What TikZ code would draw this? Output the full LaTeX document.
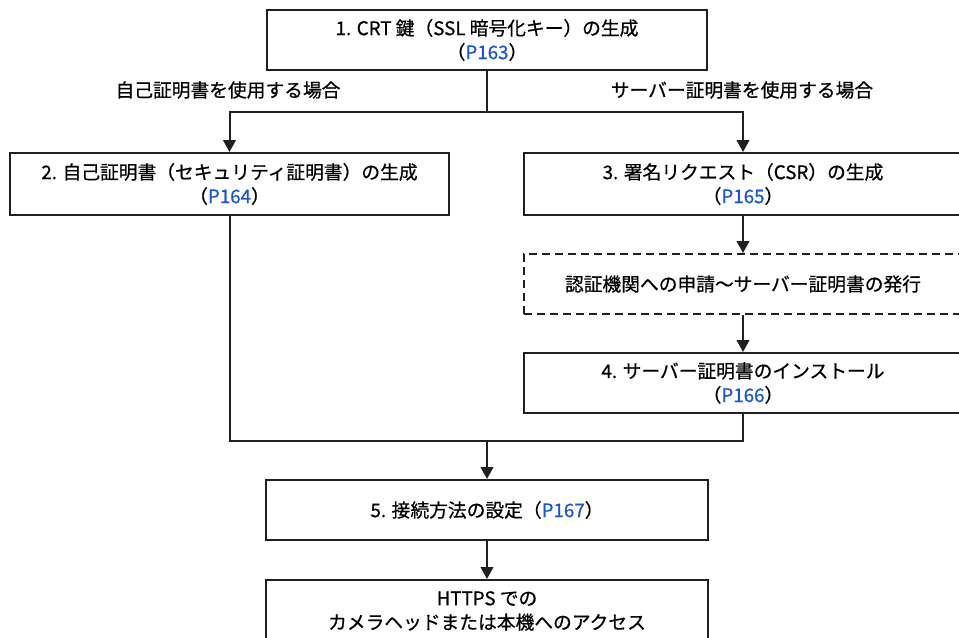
\documentclass[tikz,border=0pt]{standalone}
\usepackage{fontspec}
\setmainfont{Noto Sans CJK JP}[FakeBold=0.7]
\usetikzlibrary{positioning,arrows.meta}
\definecolor{flowline}{RGB}{35,31,32}
\definecolor{pagelink}{RGB}{25,85,205}
\newcommand{\pg}[1]{\textcolor{pagelink}{#1}}

\begin{document}
\begin{tikzpicture}[x=0.03cm, y=-0.03cm, >={Triangle[width=0.38cm,length=0.36cm]},
    every node/.style={font=\fontsize{16}{20.5}\selectfont}]
  \tikzset{
    stepbox/.style={draw=flowline, line width=0.06cm, align=center, inner sep=0pt, minimum height=1.8cm},
    link/.style={draw=flowline, line width=0.06cm}
  }
  \clip (0,0) rectangle (959,637);

  \node[stepbox, minimum width=13.17cm] (sCRT)  at (487,40) {1. CRT 鍵（SSL 暗号化キー）の生成\\（\pg{P163}）};
  \node[stepbox, minimum width=13.17cm, minimum height=1.86cm] (sSelf) at (229.5,184) {2. 自己証明書（セキュリティ証明書）の生成\\（\pg{P164}）};
  \node[stepbox, minimum width=13.14cm, minimum height=1.86cm] (sCSR)  at (743,184) {3. 署名リクエスト（CSR）の生成\\（\pg{P165}）};
  \node[stepbox, dashed, dash pattern=on 0.24cm off 0.15cm, minimum width=13.14cm] (sCA) at (743,284) {認証機関への申請〜サーバー証明書の発行};
  \node[stepbox, minimum width=13.14cm] (sInst) at (743,383) {4. サーバー証明書のインストール\\（\pg{P166}）};
  \node[stepbox, minimum width=13.23cm] (sConn) at (487,510) {5. 接続方法の設定（\pg{P167}）};
  \node[stepbox, minimum width=13.23cm, minimum height=1.86cm] (sHTTPS) at (487,611) {HTTPS での\\カメラヘッドまたは本機へのアクセス};

  \node (lSelf) at (228,90) {自己証明書を使用する場合};
  \node (lSrv)  at (742,90) {サーバー証明書を使用する場合};

  \coordinate (split) at (487,112);
  \coordinate (join)  at (487,441);

  \draw[link] (sCRT.south) -- (split);
  \draw[link, ->] (split) -| (sSelf.north);
  \draw[link, ->] (split) -| (sCSR.north);
  \draw[link, ->] (sCSR.south) -- (sCA.north);
  \draw[link, ->] (sCA.south) -- (sInst.north);
  \draw[link] (sSelf.south) |- (join);
  \draw[link] (sInst.south) |- (join);
  \draw[link, ->] (join) -- (sConn.north);
  \draw[link, ->] (sConn.south) -- (sHTTPS.north);
\end{tikzpicture}
\end{document}
